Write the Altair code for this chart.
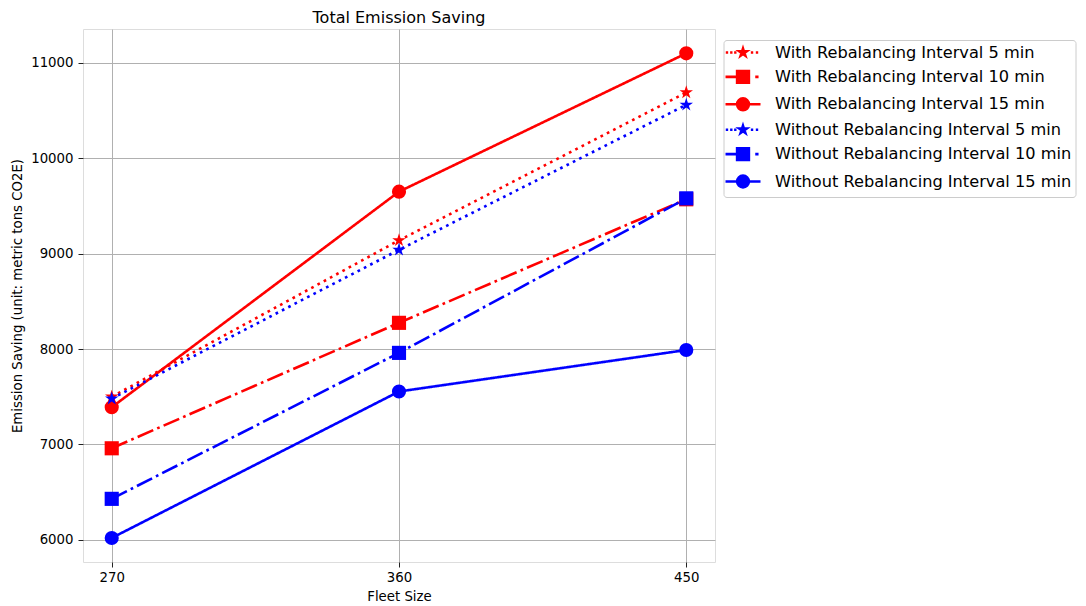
import math
import altair as alt
import pandas as pd

# ---------------- data ----------------
fleet_sizes = [270, 360, 450]

series_labels = [
    "With Rebalancing Interval 5 min",
    "With Rebalancing Interval 10 min",
    "With Rebalancing Interval 15 min",
    "Without Rebalancing Interval 5 min",
    "Without Rebalancing Interval 10 min",
    "Without Rebalancing Interval 15 min",
]
rebalancing = ["With", "With", "With", "Without", "Without", "Without"]
intervals = ["5 min", "10 min", "15 min", "5 min", "10 min", "15 min"]

with_5 = [7500, 9140, 10690]
with_10 = [6960, 8275, 9570]
with_15 = [7390, 9650, 11100]
without_5 = [7480, 9040, 10560]
without_10 = [6430, 7960, 9580]
without_15 = [6020, 7555, 7990]

series_values = [with_5, with_10, with_15, without_5, without_10, without_15]

y_ticks = [6000, 7000, 8000, 9000, 10000, 11000]

# ---------------- styles ----------------
FONT = "DejaVu Sans"
RED = "#ff0000"
BLUE = "#0000ff"
LW = 2.6


def star_path(r):
    pts = []
    for k in range(10):
        a = math.radians(-90 + 36 * k)
        rr = r if k % 2 == 0 else r * 0.382
        pts.append(f"{rr * math.cos(a):.4f},{rr * math.sin(a):.4f}")
    return "M" + "L".join(pts) + "Z"


def square_path(h):
    return f"M{-h},{-h}L{h},{-h}L{h},{h}L{-h},{h}Z"


def circle_path(r):
    return f"M{-r},0A{r},{r},0,1,1,{r},0A{r},{r},0,1,1,{-r},0Z"


def segs(pairs):
    return "".join(f"M{a},0L{b},0" for a, b in pairs)


STAR = star_path(1.0)
dotted = segs([(-2.46, -2.12), (-1.84, -1.5), (-1.27, -0.93), (1.12, 1.46), (1.83, 2.17)])
dashdot = segs([(-2.5, -0.9), (1.75, 2.22)])
solid = segs([(-2.5, 2.5)])
legend_shapes = [
    dotted + star_path(0.56),
    dashdot + square_path(0.84),
    solid + circle_path(0.84),
] * 2

dash_patterns = [[2.7, 4.4], [17, 4.3, 2.7, 4.3], [1, 0]]

# ---------------- tables ----------------
rows = []
for lab, reb, itv, vals in zip(series_labels, rebalancing, intervals, series_values):
    for x, v in zip(fleet_sizes, vals):
        rows.append({"fleet": x, "saving": v, "series": lab, "group": reb, "interval": itv})
df = pd.DataFrame(rows)

legend_df = pd.DataFrame({"series": series_labels, "fleet": [None] * 6, "saving": [None] * 6})

x_enc = alt.X(
    "fleet:Q",
    scale=alt.Scale(domain=[261, 459], nice=False, zero=False),
    axis=alt.Axis(
        values=fleet_sizes, format="d", title="Fleet Size",
        grid=True, gridColor="#b0b0b0", gridWidth=1, domain=False,
        tickSize=5, tickColor="#222222", labelPadding=3,
        labelFont=FONT, labelFontSize=13.3, labelColor="#000000",
        titleFont=FONT, titleFontSize=13.3, titleFontWeight="normal", titleColor="#000000",
        titleY=34, titleBaseline="middle",
    ),
)
y_enc = alt.Y(
    "saving:Q",
    scale=alt.Scale(domain=[5768, 11355], nice=False, zero=False),
    axis=alt.Axis(
        values=y_ticks, format="d", title="Emission Saving (unit: metric tons CO2E)",
        grid=True, gridColor="#b0b0b0", gridWidth=1, domain=False,
        tickSize=5, tickColor="#222222", labelPadding=5,
        labelFont=FONT, labelFontSize=13.3, labelColor="#000000",
        titleFont=FONT, titleFontSize=13.3, titleFontWeight="normal", titleColor="#000000",
        titleAngle=270, titleAlign="center", titleBaseline="middle",
        titleX=-65.5, titleY=266.5,
    ),
)

color_enc = alt.Color(
    "group:N", scale=alt.Scale(domain=["With", "Without"], range=[RED, BLUE]), legend=None
)

lines = alt.Chart(df).mark_line(strokeWidth=LW).encode(
    x=x_enc,
    y=y_enc,
    color=color_enc,
    strokeDash=alt.StrokeDash(
        "interval:N",
        scale=alt.Scale(domain=["5 min", "10 min", "15 min"], range=dash_patterns),
        legend=None,
    ),
    detail="series:N",
    order="fleet:Q",
)


def marker_layer(itv, shape):
    return (
        alt.Chart(df)
        .transform_filter(alt.datum.interval == itv)
        .mark_point(filled=True, size=200, opacity=1, shape=shape)
        .encode(x="fleet:Q", y="saving:Q", color=color_enc)
    )


circles = marker_layer("15 min", "circle")
squares = marker_layer("10 min", "square")
stars = marker_layer("5 min", STAR)

leg = alt.Legend(
    title=None,
    orient="none",
    legendX=640.5,
    legendY=11,
    padding=4,
    rowPadding=4.4,
    labelFont=FONT,
    labelFontSize=16.2,
    labelColor="#000000",
    labelLimit=0,
    symbolSize=196,
    symbolStrokeWidth=LW,
    symbolOffset=7,
    labelOffset=23.5,
    symbolOpacity=1,
    strokeColor="#cccccc",
    fillColor="#ffffff",
    cornerRadius=3,
)

legend_layer = alt.Chart(legend_df).mark_point(
    filled=True, size=196, strokeWidth=LW, invalid="filter"
).encode(
    x="fleet:Q",
    y="saving:Q",
    fill=alt.Fill("series:N", scale=alt.Scale(domain=series_labels, range=[RED] * 3 + [BLUE] * 3), legend=leg),
    stroke=alt.Stroke("series:N", scale=alt.Scale(domain=series_labels, range=[RED] * 3 + [BLUE] * 3), legend=leg),
    shape=alt.Shape("series:N", scale=alt.Scale(domain=series_labels, range=legend_shapes), legend=leg),
)

chart = (
    alt.layer(lines, circles, squares, stars, legend_layer)
    .properties(
        width=632,
        height=533,
        title=alt.TitleParams(
            "Total Emission Saving", font=FONT, fontSize=16, fontWeight="normal",
            color="#000000", anchor="middle", baseline="bottom", offset=4, dy=17, frame="group",
        ),
        autosize=alt.AutoSizeParams(type="none"),
        padding={"left": 75, "top": 21, "right": 363, "bottom": 44},
    )
    .configure_view(stroke="#1a1a1a", strokeWidth=1)
    .configure(background="white")
)

chart.save("out.html", embed_options={"renderer": "svg", "actions": False})
